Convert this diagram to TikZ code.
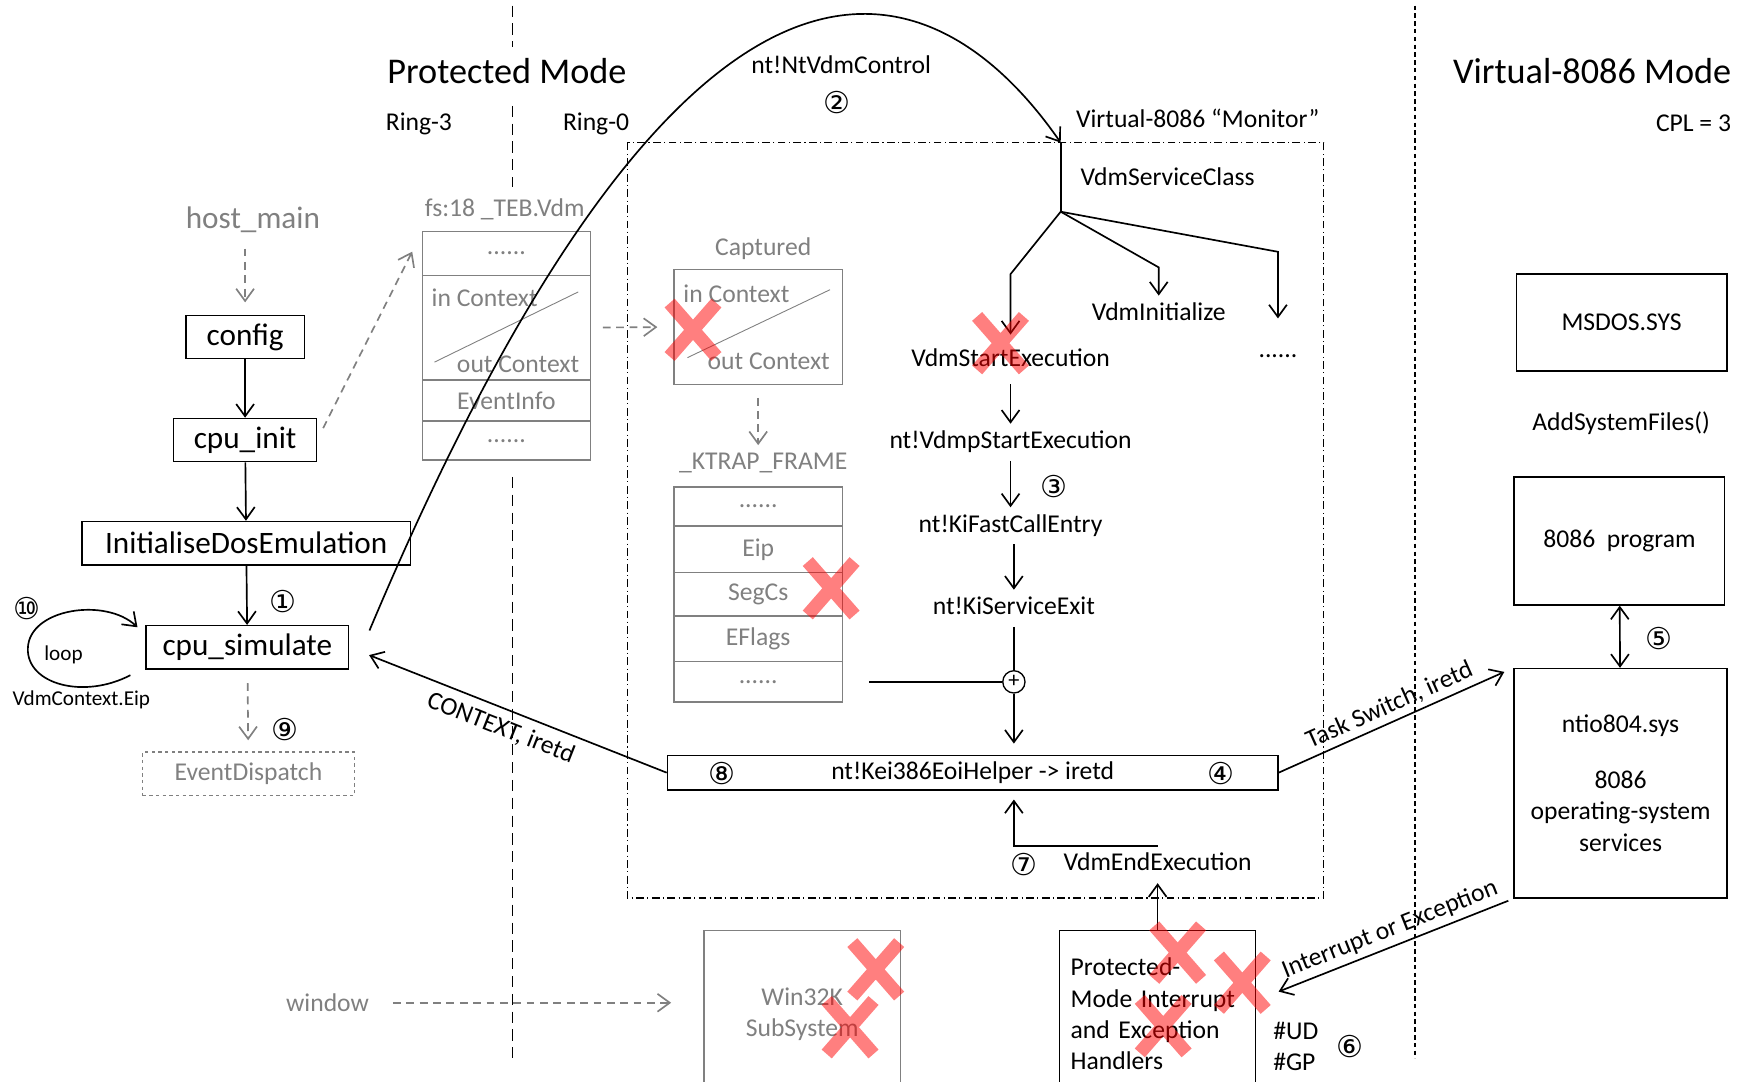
\documentclass[tikz,border=0pt]{standalone}
\usepackage{fontspec}
\setmainfont{Carlito}
\newfontfamily\circfont{DejaVu Sans}
\usetikzlibrary{arrows.meta}
\usetikzlibrary{positioning}
\tikzset{
main box/.style = { draw = black, line width = 1.2pt, minimum height = 39pt, font = \fontsize{28}{33}\selectfont },
plain box/.style = { draw = black, line width = 1.2pt, font = \fontsize{23}{28}\selectfont },
gray box/.style = { draw = gray, text = gray, line width = 1.2pt, font = \fontsize{23}{28}\selectfont },
row/.style = { gray box, minimum width = 151pt, inner sep = 0pt, outer sep = 0pt },
fn/.style = { font = \fontsize{23}{28}\selectfont, text height = 16pt, text depth = 5pt, inner sep = 6pt },
plain/.style = { font = \fontsize{23}{28}\selectfont },
gray label/.style = { text = gray, font = \fontsize{23}{28}\selectfont },
big label/.style = { font = \fontsize{32.5}{38}\selectfont },
small label/.style = { font = \fontsize{19}{23}\selectfont },
num/.style = { font = \circfont\fontsize{27}{32}\selectfont },
flow/.style = { -{Straight Barb[length = 11pt, width = 16pt]}, line width = 1.5pt },
gray flow/.style = { flow, gray, dash pattern = on 7pt off 5pt },
mode line/.style = { line width = 1.5pt, dash pattern = on 10pt off 6pt },
v86 line/.style = { line width = 2pt, dash pattern = on 4pt off 3pt },
ring0 frame/.style = { line width = 1pt, dash pattern = on 7pt off 3pt on 1pt off 3pt },
}
\tikzset{
pics/red cross/.style = {
        code = {
        \draw[red, opacity = 0.5, line width = 12pt] (-21, -24) -- (21, 24) (-21, 24) -- (21, -24);
        }
    }
}

\begin{document}
\begin{tikzpicture}[x = 1pt, y = -1pt]
    \useasboundingbox (0, 0) rectangle (1568, 971);
    % mode borders
    \draw[mode line] (460, 5) -- (460, 42);
    \draw[mode line] (460, 95) -- (460, 168);
    \draw[mode line] (460, 428) -- (460, 950);
    \draw[v86 line] (1270, 5) -- (1270, 950);
    \draw[ring0 frame] (563, 128) rectangle (1188, 806);

    \node[big label] (pmode) at (455, 64) {Protected Mode};
    \node[big label] (vmode) at (1429, 64) {Virtual-8086 Mode};
    \node[plain] (ring3) at (376, 111) {Ring-3};
    \node[plain] (ring0) at (535, 111) {Ring-0};
    \node[plain] (cpl) at (1520, 111) {CPL = 3};

    % host side
    \node[gray label, font = \fontsize{28}{33}\selectfont] (hostmain) at (227, 197) {host\_main};
    \node[main box, minimum width = 106pt] (config) at (220, 302.5) {config};
    \node[main box, minimum width = 128pt] (cpuinit) at (220, 395) {cpu\_init};
    \node[main box, minimum width = 295pt] (initdos) at (221, 487.5) {InitialiseDosEmulation};
    \node[main box, minimum width = 182pt] (cpusim) at (222, 581) {cpu\_simulate};
    \node[gray box, dashed, minimum width = 190pt, minimum height = 39pt] (evdisp) at (223, 694.5) {EventDispatch};
    \node[num] (n1) at (254, 540) {①};
    \node[num] (n9) at (256, 655) {⑨};
    \node[num] (n10) at (24, 546) {⑩};
    \node[small label] (looplbl) at (57, 588) {loop};
    \node[small label] (eiplbl) at (73, 628) {VdmContext.Eip};
    \coordinate (loop start) at (117, 606);

    \draw[gray flow, shorten <= 11pt, shorten >= 11pt] (hostmain.south -| config.north) -- (config.north);
    \draw[flow] (config) -- (cpuinit);
    \draw[flow] (cpuinit) -- (initdos);
    \draw[flow] (initdos) -- (cpusim);
    \draw[gray flow, shorten <= 12pt, shorten >= 10pt] (cpusim) -- (evdisp);
    \draw[flow] (loop start) .. controls (75, 628) and (24, 614) .. (25, 582) .. controls (26, 546) and (95, 536) .. ([xshift = -7pt, yshift = 18pt]cpusim.west);

    % TEB.Vdm
    \node[gray label] (teblbl) at (453, 188) {fs:18 \_TEB.Vdm};
    \node[row, minimum height = 39pt] (teb1) at (454.5, 227.5) {......};
    \node[row, minimum height = 94pt, below = 0pt of teb1] (teb2) {};
    \node[row, minimum height = 37pt, below = 0pt of teb2] (teb3) {EventInfo};
    \node[row, minimum height = 35pt, below = 0pt of teb3] (teb4) {......};
    \node[gray label] (tebin) at (435, 267) {in Context};
    \node[gray label] (tebout) at (465, 327) {out Context};
    \draw[gray, line width = 0.8pt] (390, 325) -- (519, 262);
    \draw[gray flow, shorten <= 12pt, shorten >= 20pt] (cpuinit.east) -- (teb1.north west);

    % captured context and trap frame
    \node[gray label] (caplbl) at (685, 223) {Captured};
    \node[row, minimum height = 103pt] (cap) at (680.5, 293.5) {};
    \node[gray label] (capin) at (661, 264) {in Context};
    \node[gray label] (capout) at (690, 324) {out Context};
    \draw[gray, line width = 0.8pt] (617, 321) -- (745, 260);
    \draw[gray flow, shorten <= 11pt, shorten >= 15pt] (teb2.east) -- (cap.west);

    \node[gray label] (ktlbl) at (685, 416) {\_KTRAP\_FRAME};
    \node[row, minimum height = 35pt] (kt1) at (680.5, 454.5) {......};
    \node[row, minimum height = 42pt, below = 0pt of kt1] (kt2) {Eip};
    \node[row, minimum height = 39pt, below = 0pt of kt2] (kt3) {SegCs};
    \node[row, minimum height = 41pt, below = 0pt of kt3] (kt4) {EFlags};
    \node[row, minimum height = 36pt, below = 0pt of kt4] (kt5) {......};
    \draw[gray flow, shorten <= 12pt, shorten >= 4pt] (cap.south) -- (cap.south |- ktlbl.north);

    % monitor
    \node[plain] (ntvdm) at (755, 58) {nt!NtVdmControl};
    \node[num] (n2) at (751, 92) {②};
    \node[plain] (monlbl) at (1075, 106) {Virtual-8086 “Monitor”};
    \coordinate (monitor) at (952, 128);
    \coordinate (fork) at (952, 190);
    \draw[flow] ([xshift = 18pt, yshift = -5pt]cpusim.north east) .. controls (650, -190) and (870, 10) .. (monitor);
    \draw[line width = 1.5pt] (monitor) -- (fork);

    \node[fn] (vsc) at (1048, 161) {VdmServiceClass};
    \node[fn] (vstart) at (907, 323) {VdmStartExecution};
    \node[fn] (vinit) at (1040, 282) {VdmInitialize};
    \node[fn] (vmore) at (1147, 315.5) {......};
    \draw[flow, shorten >= 6pt] (fork) -- (vstart.north |- 0, 246) -- (vstart.north);
    \draw[flow] (fork) -- (vinit.north |- 0, 240) -- (vinit.north);
    \draw[flow, shorten >= 13pt] (fork) -- (vmore.north |- 0, 226) -- (vmore.north);

    \node[fn] (vpse) at (907, 397) {nt!VdmpStartExecution};
    \node[fn] (kfce) at (907, 472) {nt!KiFastCallEntry};
    \node[fn] (kse) at (910, 546) {nt!KiServiceExit};
    \node[num] (n3) at (946, 437) {③};
    \node[draw, circle, line width = 1.2pt, minimum size = 20pt, inner sep = 0pt, font = \fontsize{20}{24}\selectfont] (plus) at (910, 612) {+};
    \coordinate (tap) at (780, 612);
    \draw[flow, shorten <= 5pt] (vstart) -- (vpse);
    \draw[flow] (vpse) -- (kfce);
    \draw[flow] (kfce.south -| kse) -- (kse);
    \draw[line width = 1.5pt] (kse) -- (plus);
    \draw[line width = 1.5pt] (tap) -- (plus);

    \node[plain box, minimum width = 548pt, minimum height = 31pt] (eoi) at (873, 693.5) {nt!Kei386EoiHelper -> iretd};
    \node[num] (n8) at (648, 694) {⑧};
    \node[num] (n4) at (1096, 694) {④};
    \draw[flow, shorten >= 10pt] (plus) -- (plus |- eoi.north);

    \node[fn] (vend) at (1039, 776) {VdmEndExecution};
    \node[num] (n7) at (919, 776) {⑦};
    \draw[flow, shorten >= 8pt] (vend.north) -| (plus |- eoi.south);

    % bottom
    \node[gray label] (window) at (294, 900) {window};
    \node[gray box, minimum width = 176pt, minimum height = 150pt, align = center] (win32k) at (720, 910) {Win32K\\SubSystem};
    \draw[gray flow, shorten <= 18pt, shorten >= 29pt] (window.east) -- (window.east -| win32k.west);
    \node[plain box, minimum height = 150pt, text width = 156pt, inner xsep = 10pt, align = left] (pmh) at (1039, 910) {Protected-\\Mode Interrupt\\and Exception\\Handlers};
    \draw[flow] (pmh) -- (vend);
    \node[plain, align = left] (excs) at (1163, 939) {\#UD\\\#GP};
    \node[num] (n6) at (1212, 939) {⑥};

    % virtual-8086 side
    \node[plain box, minimum width = 189pt, minimum height = 87pt] (msdos) at (1455.5, 289.5) {MSDOS.SYS};
    \node[plain] (addsys) at (1455, 380) {AddSystemFiles()};
    \node[plain box, minimum width = 189pt, minimum height = 115pt] (prog) at (1453.5, 485.5) {8086\ \ program};
    \node[plain box, minimum width = 191pt, minimum height = 206pt, align = center] (ntio) at (1454.5, 703) {ntio804.sys\\[22pt]8086\\operating-system\\services};
    \draw[flow, {Straight Barb[length = 11pt, width = 16pt]}-{Straight Barb[length = 11pt, width = 16pt]}] (prog) -- (ntio);
    \node[num] (n5) at (1489, 573) {⑤};

    % mode switches
    \draw[flow, shorten >= 19pt] (eoi.west) -- (cpusim.east) node[midway, below = 4pt, sloped, plain] {CONTEXT, iretd};
    \draw[flow, shorten >= 9pt] (eoi.east) -- (ntio.north west) node[midway, above = 1pt, sloped, plain] {Task Switch, iretd};
    \draw[flow, shorten <= 5pt] (ntio.south west) -- ([shift = {(20, -20)}]pmh.east) node[midway, above = 1pt, sloped, plain] {Interrupt or Exception};

    % removed parts
    \pic at (622, 296) {red cross};
    \pic at (898, 308) {red cross};
    \pic at (746, 528) {red cross};
    \pic at (786, 870) {red cross};
    \pic at (763, 922) {red cross};
    \pic at (1057, 855) {red cross};
    \pic at (1115, 882) {red cross};
    \pic at (1044, 921) {red cross};
\end{tikzpicture}
\end{document}
